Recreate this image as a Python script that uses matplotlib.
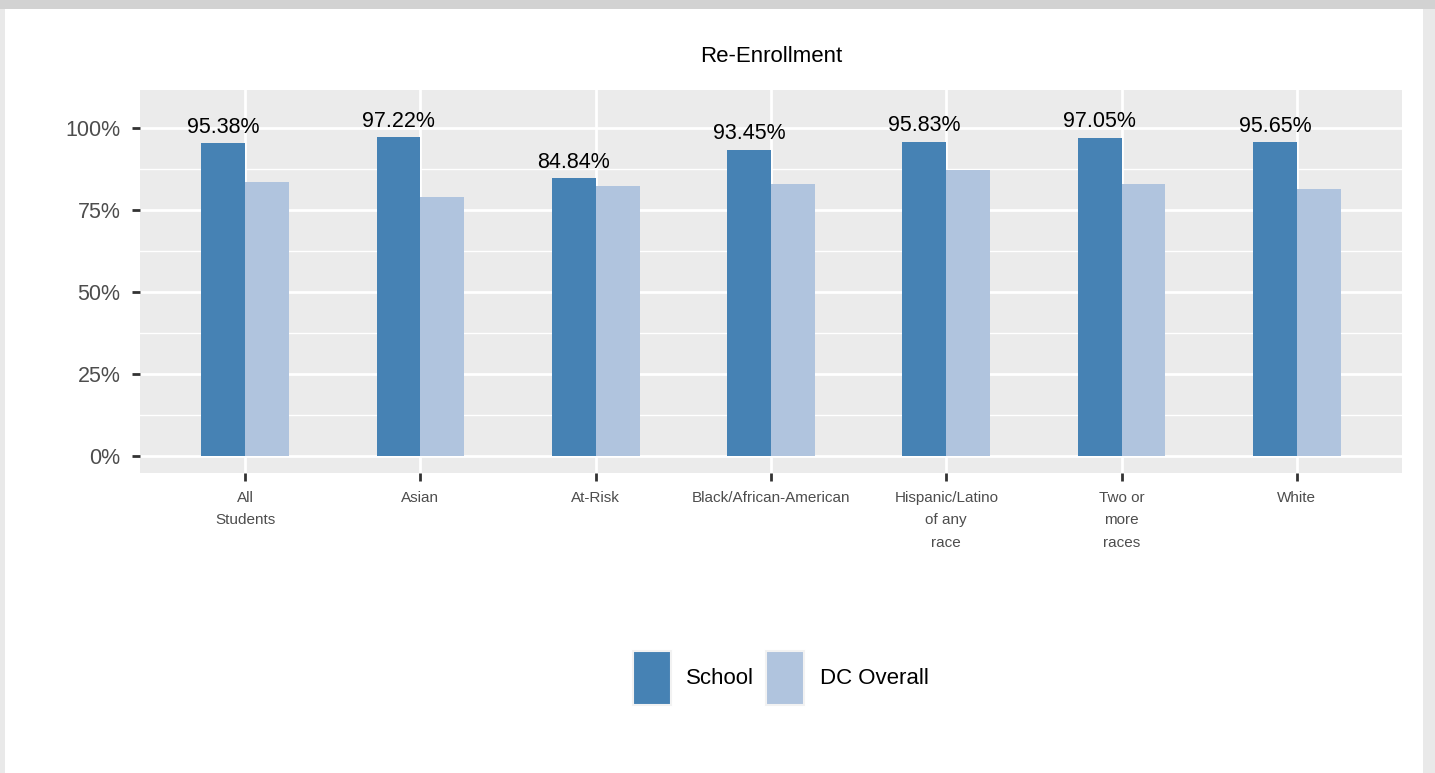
import matplotlib
matplotlib.use("Agg")
import matplotlib.pyplot as plt
import numpy as np
from matplotlib.patches import Rectangle

categories = ["All\nStudents", "Asian", "At-Risk", "Black/African-American",
              "Hispanic/Latino\nof any\nrace", "Two or\nmore\nraces", "White"]
school = [95.38, 97.22, 84.84, 93.45, 95.83, 97.05, 95.65]
dc_overall = [83.5, 79.0, 82.3, 82.9, 87.2, 82.9, 81.4]
series_names = ["School", "DC Overall"]
colors = ["#4682b4", "#b0c4de"]

plt.rcParams['font.family'] = ['Liberation Sans', 'DejaVu Sans']

W, H = 1435, 773
fig = plt.figure(figsize=(W/100, H/100), dpi=100)
fig.patch.set_facecolor("#e9e9e9")
# white card
fig.add_artist(Rectangle((5/W, 0), (1423-5)/W, (H-9)/H, transform=fig.transFigure,
                         facecolor="white", edgecolor="none", zorder=0))
fig.add_artist(Rectangle((0, (H-9)/H), 1, 9/H, transform=fig.transFigure,
                         facecolor="#d2d2d2", edgecolor="none", zorder=0))

ax = fig.add_axes([140/W, 1-473/H, (1402-140)/W, (473-90)/H])
ax.set_facecolor("#ebebeb")
x = np.arange(len(categories))
w = 0.25
ax.bar(x - w/2, school, width=w, color=colors[0], zorder=3, label=series_names[0])
ax.bar(x + w/2, dc_overall, width=w, color=colors[1], zorder=3, label=series_names[1])
for xi, v in zip(x, school):
    ax.text(xi - w/2, v + 1.6, f"{v:.2f}%", ha="center", va="bottom", fontsize=15.5,
            color="black", zorder=4)

ax.set_xlim(-0.6, len(categories) - 0.4)
ax.set_ylim(-5.2, 111.6)
ax.set_yticks([0, 25, 50, 75, 100])
ax.set_yticklabels(["0%", "25%", "50%", "75%", "100%"])
ax.set_yticks([12.5, 37.5, 62.5, 87.5], minor=True)
ax.set_xticks(x)
ax.set_xticklabels(categories, linespacing=1.75)
ax.grid(which="major", color="white", linewidth=2.0, zorder=1)
ax.grid(which="minor", axis="y", color="white", linewidth=1.0, zorder=1)
ax.tick_params(axis="y", which="major", labelsize=15.5, labelcolor="#4d4d4d", color="#333333",
               length=6, width=2, pad=8)
ax.tick_params(axis="y", which="minor", length=0)
ax.tick_params(axis="x", labelsize=11, labelcolor="#4d4d4d", color="#333333",
               length=6, width=2, pad=7)
for s in ax.spines.values():
    s.set_visible(False)

fig.text(771/W, 1-56/H, "Re-Enrollment", ha="center", va="center", fontsize=16)

# legend
kw, kh = 38/W, 54/H
ky = 1 - 705/H
fig.add_artist(Rectangle((633/W, ky), kw, kh, transform=fig.transFigure,
                         facecolor=colors[0], edgecolor="#f2f2f2", linewidth=1.5))
fig.add_artist(Rectangle((766/W, ky), kw, kh, transform=fig.transFigure,
                         facecolor=colors[1], edgecolor="#f2f2f2", linewidth=1.5))
fig.text(686/W, 1-679/H, series_names[0], ha="left", va="center", fontsize=16)
fig.text(820/W, 1-679/H, series_names[1], ha="left", va="center", fontsize=16)

fig.savefig("out.png", dpi=100, facecolor=fig.get_facecolor())
